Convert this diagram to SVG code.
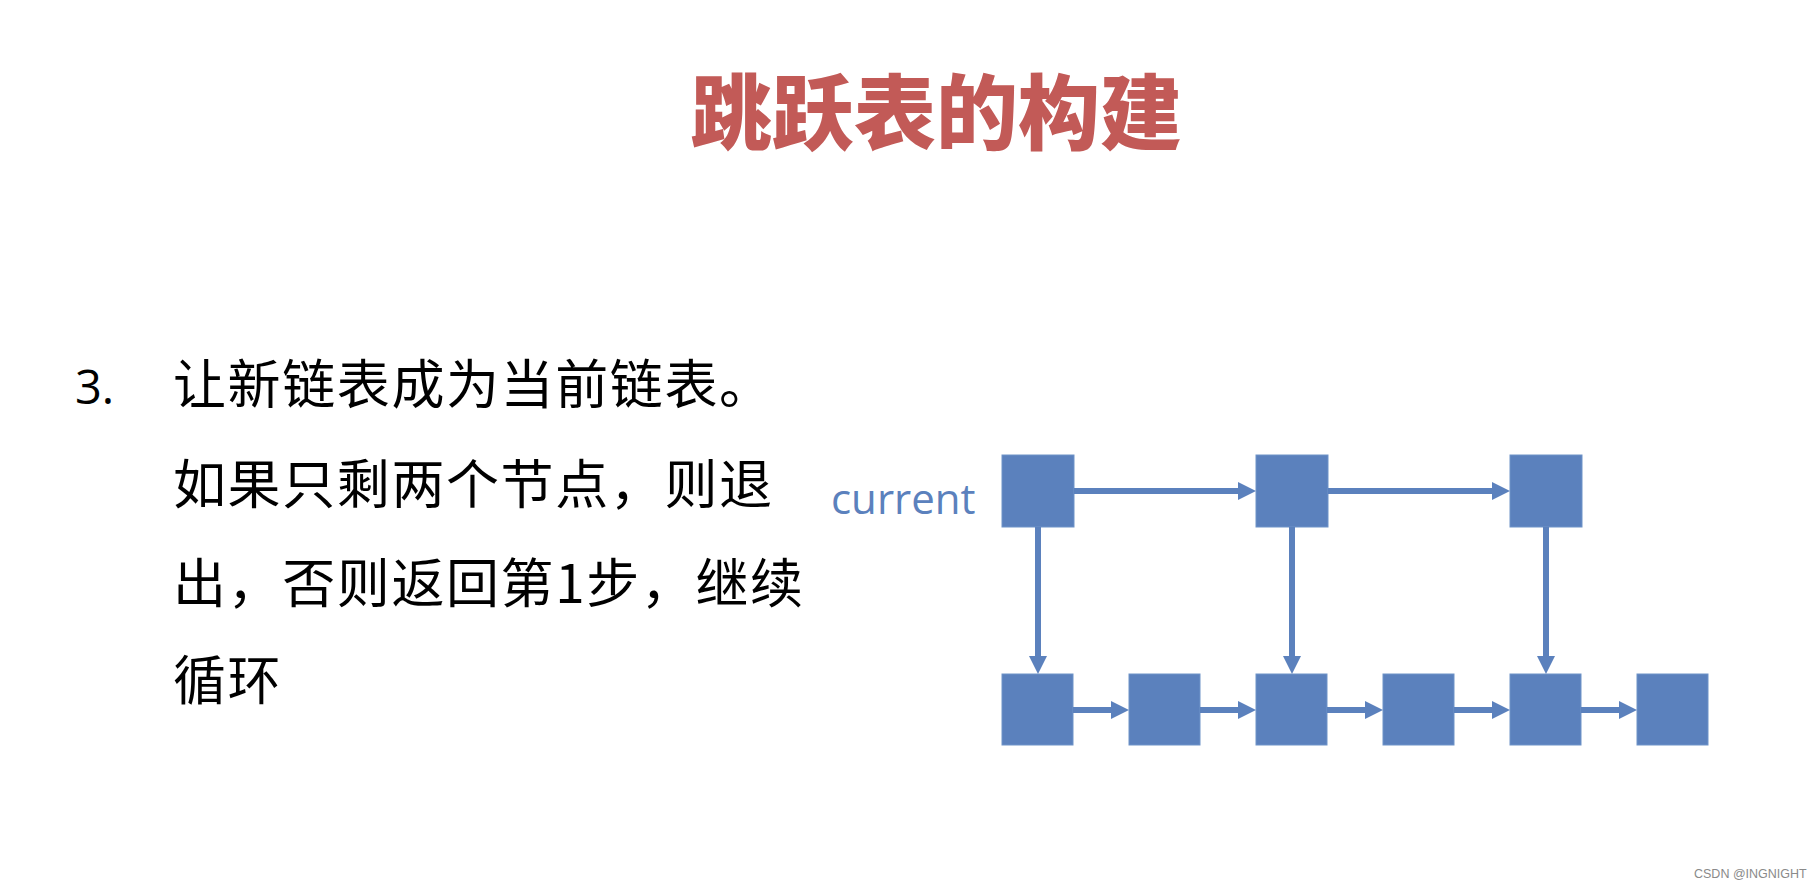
<svg xmlns="http://www.w3.org/2000/svg" width="1820" height="888" viewBox="0 0 1820 888">
<style>
.title{font-family:"Noto Sans CJK SC","Noto Sans",sans-serif;font-weight:900;font-size:82px;fill:#C25A57}
.body{font-family:"Noto Sans CJK SC","Noto Sans",sans-serif;font-size:53px;letter-spacing:1.6px;fill:#000}
.num{font-family:"Open Sans","Liberation Sans",sans-serif;font-size:47px;fill:#000}
.node{fill:#5B81BD;stroke:#6F93C8;stroke-width:1}
.lbl{font-family:"Open Sans","Liberation Sans",sans-serif;font-size:42px;fill:#5B81BD}
.conn{stroke:#5B81BD;stroke-width:6;fill:none}
.wm{font-family:"Liberation Sans",Arial,sans-serif;font-size:12.5px;fill:#8A8A8A}
</style>
<defs>
<marker id="ah" markerUnits="userSpaceOnUse" markerWidth="20" markerHeight="20" viewBox="0 -10 20 20" refX="0" refY="0" orient="auto" overflow="visible">
<path d="M0,-9 L18,0 L0,9 z" fill="#5B81BD"/>
</marker>
</defs>
<rect width="1820" height="888" fill="#fff"/>
<g id="title"><text class="title" x="936" y="143" text-anchor="middle">跳跃表的构建</text></g>
<g id="text">
<text class="num" x="75" y="404">3.</text>
<text class="body" x="173" y="404">让新链表成为当前链表。</text>
<text class="body" x="173" y="504">如果只剩两个节点，则退</text>
<text class="body" x="173" y="603">出，否则返回第1步，继续</text>
<text class="body" x="173" y="700">循环</text>
</g>
<g id="label-current"><text class="lbl" x="831" y="514">current</text></g>
<g id="t1"><rect class="node" x="1002" y="455" width="72" height="72"/></g>
<g id="t2"><rect class="node" x="1256" y="455" width="72" height="72"/></g>
<g id="t3"><rect class="node" x="1510" y="455" width="72" height="72"/></g>
<g id="b1"><rect class="node" x="1002" y="674" width="71" height="71"/></g>
<g id="b2"><rect class="node" x="1129" y="674" width="71" height="71"/></g>
<g id="b3"><rect class="node" x="1256" y="674" width="71" height="71"/></g>
<g id="b4"><rect class="node" x="1383" y="674" width="71" height="71"/></g>
<g id="b5"><rect class="node" x="1510" y="674" width="71" height="71"/></g>
<g id="b6"><rect class="node" x="1637" y="674" width="71" height="71"/></g>
<g id="connectors">
<path class="conn" d="M1074,491 H1238" marker-end="url(#ah)"/>
<path class="conn" d="M1328,491 H1492" marker-end="url(#ah)"/>
<path class="conn" d="M1038,527 V656" marker-end="url(#ah)"/>
<path class="conn" d="M1292,527 V656" marker-end="url(#ah)"/>
<path class="conn" d="M1546,527 V656" marker-end="url(#ah)"/>
<path class="conn" d="M1073,710 H1111" marker-end="url(#ah)"/>
<path class="conn" d="M1200,710 H1238" marker-end="url(#ah)"/>
<path class="conn" d="M1327,710 H1365" marker-end="url(#ah)"/>
<path class="conn" d="M1454,710 H1492" marker-end="url(#ah)"/>
<path class="conn" d="M1581,710 H1619" marker-end="url(#ah)"/>
</g>
<g id="watermark"><text class="wm" x="1694" y="878">CSDN @INGNIGHT</text></g>
</svg>
